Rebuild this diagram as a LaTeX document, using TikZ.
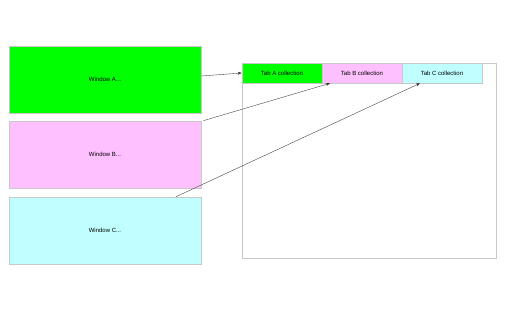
\documentclass[tikz,border=0pt]{standalone}
\usepackage{fontspec}
\setmainfont{Liberation Sans}
\usetikzlibrary{arrows.meta,calc}
\definecolor{wgreen}{HTML}{00FF00}
\definecolor{wpink}{HTML}{FFC0FF}
\definecolor{wcyan}{HTML}{C0FFFF}
\definecolor{edge}{HTML}{C8C8C8}
\tikzset{
  winbox/.style={draw=edge, line width=0.6pt, minimum width=192pt, minimum height=67pt, inner sep=0pt, font=\fontsize{6}{7}\selectfont},
  tabbox/.style={draw=edge, line width=0.6pt, minimum width=80pt, minimum height=20pt, inner sep=0pt, font=\fontsize{6}{7}\selectfont},
  link/.style={draw=black!80, line width=0.35pt, -{Stealth[length=4pt,width=3pt]}}
}
\begin{document}
\begin{tikzpicture}[x=1pt,y=-1pt]
\useasboundingbox (0,0) rectangle (512,320);
\node[winbox, fill=wgreen] (wa) at (105,79.5) {Window A...};
\node[winbox, fill=wpink] (wb) at (105,154.5) {Window B...};
\node[winbox, fill=wcyan] (wc) at (105,230.5) {Window C...};
\node[draw=edge, line width=0.6pt, minimum width=254pt, minimum height=195pt, inner sep=0pt] (panel) at (369,160.5) {};
\node[tabbox, fill=wgreen] (ta) at (282,73) {Tab A collection};
\node[tabbox, fill=wpink] (tb) at (362,73) {Tab B collection};
\node[tabbox, fill=wcyan] (tc) at (442,73) {Tab C collection};
\coordinate (sa) at ($(wa.east)+(0,-3.5)$);
\coordinate (sb) at ($(wb.north east)+(2,0)$);
\coordinate (sc) at ($(wc.north)+(71,0)$);
\coordinate (eb) at ($(tb.south)+(-32,0)$);
\coordinate (ec) at ($(tc.south)+(-22,0)$);
\draw[link] (sa) -- (ta.west);
\draw[link] (sb) -- (eb);
\draw[link] (sc) -- (ec);
\end{tikzpicture}
\end{document}
